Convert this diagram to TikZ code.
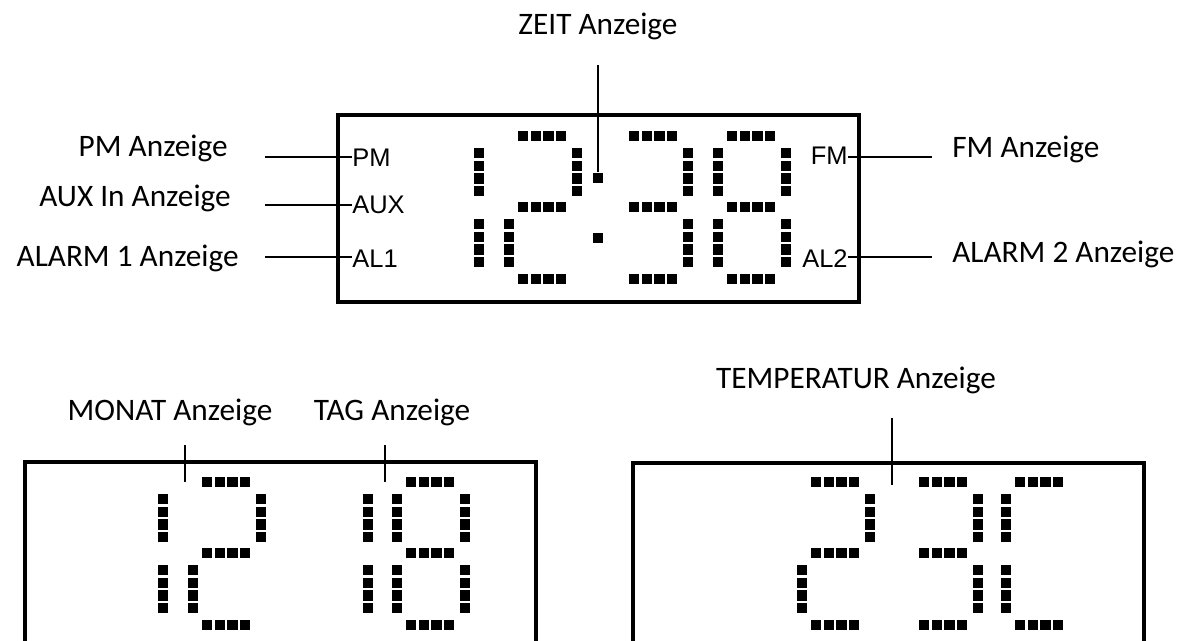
\documentclass[tikz,border=0pt]{standalone}
\usepackage{fontspec}
\newfontfamily\lblfont{Carlito}
\newfontfamily\lcdfont{Liberation Sans}
\usepackage{tikz}

\newcommand{\hseg}[2]{\foreach \k in {0,...,3} \fill (#1+\k*12.7,#2) rectangle ++(10.3,10.3);}
\newcommand{\vseg}[2]{\foreach \k in {0,...,3} \fill (#1,#2+\k*12.7) rectangle ++(10.3,10.3);}
\newcommand{\sega}[2]{\hseg{#1+14}{#2}}
\newcommand{\segb}[2]{\vseg{#1+68}{#2+17}}
\newcommand{\segc}[2]{\vseg{#1+68}{#2+88}}
\newcommand{\segd}[2]{\hseg{#1+14}{#2+143}}
\newcommand{\sege}[2]{\vseg{#1}{#2+88}}
\newcommand{\segf}[2]{\vseg{#1}{#2+17}}
\newcommand{\segg}[2]{\hseg{#1+14}{#2+71}}
\newcommand{\lcddigit}[3]{\foreach \s in {#3} {\csname seg\s\endcsname{#1}{#2}}}

\tikzset{
  lcdframe/.style={line width=2.1pt},
  leader/.style={line width=1.1pt},
  lbl/.style={font=\lblfont\fontsize{17.8}{20}\selectfont,inner sep=0pt},
  lcd/.style={font=\lcdfont\fontsize{14.5}{17}\selectfont,inner sep=0pt},
  colondot/.style={fill,minimum size=0.206cm,inner sep=0pt}
}

\begin{document}
\begin{tikzpicture}[x=0.02cm,y=-0.02cm]
\useasboundingbox (0,0) rectangle (1185,641);

\draw[lcdframe] (338,115) rectangle (859,302);
\draw[lcdframe] (25,641) |- (536,462) -- (536,641);
\draw[lcdframe] (633,641) |- (1144,463) -- (1144,641);

\lcddigit{474}{131}{f,e}
\lcddigit{504}{131}{a,b,g,e,d}
\lcddigit{615}{131}{a,b,g,c,d}
\lcddigit{713}{131}{a,b,c,d,e,f,g}
\node[colondot] (colon-up) at (598,178) {};
\node[colondot] (colon-dn) at (598,238) {};

\lcddigit{158}{477}{f,e}
\lcddigit{188}{477}{a,b,g,e,d}
\lcddigit{363}{477}{f,e}
\lcddigit{392}{477}{a,b,c,d,e,f,g}

\lcddigit{797}{477}{a,b,g,e,d}
\lcddigit{905}{477}{a,b,g,c,d}
\lcddigit{1001}{477}{a,f,e,d}

\node[lcd,anchor=base west] (pm) at (352,167) {PM};
\node[lcd,anchor=base west] (aux) at (352,214) {AUX};
\node[lcd,anchor=base west] (al1) at (352,268) {AL1};
\node[lcd,anchor=base east] (fm) at (848,165) {FM};
\node[lcd,anchor=base east] (al2) at (848,268) {AL2};

\node[lbl,anchor=base] (zeit) at (598,35) {ZEIT Anzeige};
\node[lbl,anchor=base east] (pm-lbl) at (228,157) {PM Anzeige};
\node[lbl,anchor=base east] (aux-lbl) at (231,207) {AUX In Anzeige};
\node[lbl,anchor=base east] (al1-lbl) at (239,267) {ALARM 1 Anzeige};
\node[lbl,anchor=base west] (fm-lbl) at (952,158) {FM Anzeige};
\node[lbl,anchor=base west] (al2-lbl) at (952,263) {ALARM 2 Anzeige};
\node[lbl,anchor=base] (monat-lbl) at (170,420) {MONAT Anzeige};
\node[lbl,anchor=base] (tag-lbl) at (392,420) {TAG Anzeige};
\node[lbl,anchor=base] (temp-lbl) at (856,388) {TEMPERATUR Anzeige};

\coordinate (zeit-end) at (598,65);
\coordinate (pm-end) at (265,157);
\coordinate (aux-end) at (265,205);
\coordinate (al1-end) at (265,257);
\coordinate (fm-end) at (932,157);
\coordinate (al2-end) at (932,257);
\coordinate (monat-top) at (185,445);
\coordinate (monat-bot) at (185,482);
\coordinate (tag-top) at (385,445);
\coordinate (tag-bot) at (385,482);
\coordinate (temp-top) at (892,418);
\coordinate (temp-bot) at (892,485);

\path[leader] (zeit-end) edge (colon-up) (pm-end) edge (pm-end -| pm.west) (aux-end) edge (aux-end -| aux.west) (al1-end) edge (al1-end -| al1.west) (fm-end) edge (fm-end -| fm.east) (al2-end) edge (al2-end -| al2.east) (monat-top) edge (monat-bot) (tag-top) edge (tag-bot) (temp-top) edge (temp-bot);

\end{tikzpicture}
\end{document}
